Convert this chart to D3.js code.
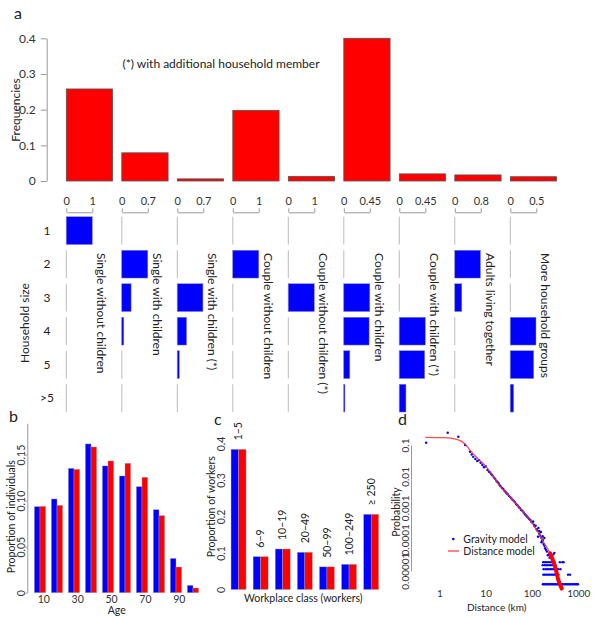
<!DOCTYPE html>
<html>
<head>
<meta charset="utf-8">
<script src="https://cdnjs.cloudflare.com/ajax/libs/d3/7.8.5/d3.min.js"></script>
<style>
  body { margin: 0; background: #fff; }
  svg { font-family: Lato, 'Open Sans', sans-serif; }
  .axis path, .axis line { stroke: #999; }
  .axis text { fill: #333; }
</style>
</head>
<body>
<div id="chart"></div>
<script>
// household types (panel a)
const householdTypes = [
  'Single without children', 'Single with children', 'Single with children (*)',
  'Couple without children', 'Couple without children (*)', 'Couple with children',
  'Couple with children (*)', 'Adults living together', 'More household groups'
];
const typeFrequencies = [0.258, 0.079, 0.006, 0.198, 0.013, 0.400, 0.020, 0.017, 0.012];
const freqTicks = [0, 0.1, 0.2, 0.3, 0.4];
const householdSizes = ['1', '2', '3', '4', '5', '>5'];
const sizeAxisMax = [1, 0.7, 0.7, 1, 1, 0.45, 0.45, 0.8, 0.5];
const sizeAxisLabels = ['1', '0.7', '0.7', '1', '1', '0.45', '0.45', '0.8', '0.5'];
// share of each household size, one row per household type
const sizeShares = [
  [1, 0, 0, 0, 0, 0],
  [0, 0.70, 0.25, 0.054, 0, 0],
  [0, 0, 0.69, 0.25, 0.054, 0],
  [0, 1, 0, 0, 0, 0],
  [0, 0, 1, 0, 0, 0],
  [0, 0, 0.45, 0.438, 0.104, 0.02],
  [0, 0, 0, 0.45, 0.44, 0.115],
  [0, 0.79, 0.215, 0, 0, 0],
  [0, 0, 0, 0.494, 0.45, 0.064]
];

// age structure (panel b)
const ageGroups = ['0-9', '10-19', '20-29', '30-39', '40-49', '50-59', '60-69', '70-79', '80-89', '90+'];
const ageBlue = [0.0935, 0.1018, 0.1351, 0.1616, 0.1377, 0.1268, 0.1152, 0.0902, 0.0373, 0.008];
const ageRed = [0.0938, 0.0949, 0.1340, 0.1583, 0.1431, 0.1406, 0.1254, 0.0837, 0.0279, 0.0051];
const ageTicks = [0, 0.05, 0.10, 0.15];
const ageTickLabels = [10, 30, 50, 70, 90];

// workplace size (panel c)
const workplaceClasses = ['1\u22125', '6\u22129', '10\u221219', '20\u221249', '50\u221299', '100\u2212249', '\u2265 250'];
const workersBlue = [0.384, 0.090, 0.111, 0.102, 0.062, 0.069, 0.206];
const workersRed = [0.384, 0.090, 0.111, 0.102, 0.062, 0.069, 0.206];
const workerTicks = [0, 0.1, 0.2, 0.3, 0.4];

// commuting distance (panel d)
const distanceTicks = [1, 10, 100, 1000];
const probTicks = [1e-1, 1e-2, 1e-3, 1e-4, 1e-5];
const gravityPoints = [
  [0.52, 0.118], [1.52, 0.246], [2.57, 0.184], [3.6, 0.100], [4.6, 0.061], [5.0, 0.050], [5.4, 0.042],
  [6.0, 0.036], [6.6, 0.031], [7.2, 0.033], [7.8, 0.027], [8.5, 0.023], [9.2, 0.0195], [10.0, 0.021],
  [11, 0.016], [11.8, 0.0142], [12.5, 0.0133], [13.3, 0.0118], [14, 0.0108], [15, 0.0093], [16, 0.0084],
  [17, 0.0073], [18, 0.0067], [19, 0.0061], [20, 0.0053], [21, 0.0049], [22.5, 0.0043], [24, 0.0040],
  [25.5, 0.0035], [27, 0.0032], [28.5, 0.0029], [30, 0.0027], [32, 0.0024], [34, 0.0022], [36, 0.0020],
  [38, 0.0018], [40, 0.0017], [43, 0.0015], [46, 0.0013], [49, 0.0012], [52, 0.00106], [55, 0.00098],
  [58, 0.00086], [62, 0.00081], [66, 0.00071], [70, 0.00064], [74, 0.00058], [78, 0.00053], [82, 0.00049],
  [87, 0.00044], [92, 0.00041], [97, 0.00036], [102, 0.00034], [106, 0.00037], [110, 0.00029],
  [115, 0.00026], [120, 0.00027], [126, 0.00021], [132, 0.00019], [138, 0.00023], [144, 0.00015],
  [150, 0.00013], [156, 0.00017], [160, 0.00011], [165, 0.000088], [172, 0.000094], [178, 0.000071],
  [185, 0.000062], [192, 0.000052], [200, 0.000046], [210, 0.000041], [220, 0.000031], [230, 0.000033],
  [240, 0.000026], [255, 0.000029], [170, 0.000125], [185, 0.00011], [305, 0.000037], [290, 0.000033],
  [145, 0.00018], [160, 0.00008], [135, 0.00012],
  [175, 1.87e-5], [192, 1.87e-5], [210, 1.87e-5], [232, 1.87e-5], [255, 1.87e-5], [280, 1.87e-5],
  [305, 1.87e-5], [400, 1.87e-5], [455, 1.87e-5], [480, 1.87e-5],
  [170, 1.5e-5], [186, 1.5e-5], [203, 1.5e-5], [222, 1.5e-5], [245, 1.5e-5], [268, 1.5e-5],
  [292, 1.5e-5], [318, 1.5e-5],
  [178, 1.12e-5], [195, 1.12e-5], [212, 1.12e-5], [230, 1.12e-5], [250, 1.12e-5], [270, 1.12e-5],
  [292, 1.12e-5], [315, 1.12e-5], [340, 1.12e-5], [365, 1.12e-5], [410, 1.12e-5],
  [176, 7.5e-6], [190, 7.5e-6], [205, 7.5e-6], [222, 7.5e-6], [240, 7.5e-6], [260, 7.5e-6],
  [282, 7.5e-6], [305, 7.5e-6], [330, 7.5e-6], [355, 7.5e-6], [372, 7.5e-6], [600, 7.5e-6], [665, 7.5e-6],
  [172, 3.7e-6], [182, 3.7e-6], [195, 3.7e-6], [208, 3.7e-6], [222, 3.7e-6], [238, 3.7e-6], [255, 3.7e-6],
  [272, 3.7e-6], [290, 3.7e-6], [310, 3.7e-6], [332, 3.7e-6], [355, 3.7e-6], [380, 3.7e-6], [405, 3.7e-6],
  [432, 3.7e-6], [460, 3.7e-6], [495, 3.7e-6], [530, 3.7e-6], [570, 3.7e-6], [610, 3.7e-6], [655, 3.7e-6],
  [700, 3.7e-6], [750, 3.7e-6], [800, 3.7e-6], [860, 3.7e-6], [920, 3.7e-6], [985, 3.7e-6]
];
const distanceModel = [
  [0.5, 0.176], [1.2, 0.171], [2.4, 0.151], [3.6, 0.108], [4.6, 0.069], [6.4, 0.040], [10.2, 0.0204],
  [14.7, 0.0098], [20.5, 0.0049], [33.6, 0.00226], [55, 0.00096], [91, 0.00041], [127, 0.000196],
  [176, 0.000083], [246, 0.0000355], [316, 0.0000133], [372, 0.000005], [440, 0.0000027]
];

const blue = '#0000ff', red = '#ff0000';

let svg = d3
  .select('#chart')
  .append('svg')
  .attr('width', 600)
  .attr('height', 617);

// rotated label helper
function rotLabel(x, y, txt, size, angle, anchor) {
  return svg
    .append('text')
    .attr('transform', `translate(${x},${y}) rotate(${angle})`)
    .attr('text-anchor', anchor || 'middle')
    .attr('dy', '0.35em')
    .attr('font-size', size)
    .attr('fill', '#222')
    .text(txt);
}
function plainText(x, y, txt, size, anchor) {
  return svg
    .append('text')
    .attr('x', x)
    .attr('y', y)
    .attr('text-anchor', anchor || 'middle')
    .attr('font-size', size)
    .attr('fill', '#222')
    .text(txt);
}

/////////////////////////////////////////////////////////
///////////// Panel a : household types /////////////////
/////////////////////////////////////////////////////////

plainText(14, 19, 'a', 16, 'start');

let xType = d3
  .scaleBand()
  .domain(householdTypes)
  .range([61.7, 561.2])
  .paddingInner(0.166)
  .paddingOuter(0.083);
let yFreq = d3.scaleLinear().domain([0, 0.4]).range([181, 38.3]);

svg
  .append('g')
  .attr('class', 'axis')
  .attr('transform', 'translate(46.7,0)')
  .call(
    d3
      .axisLeft(yFreq)
      .tickValues(freqTicks)
      .tickSize(6)
      .tickSizeOuter(0)
      .tickPadding(5)
      .tickFormat(d => (d === 0 ? '0' : d3.format('.1f')(d)))
  )
  .selectAll('text')
  .attr('font-size', 12)
  .attr('font-family', 'Lato');

rotLabel(16, 110, 'Frequencies', 12, -90);

svg
  .append('g')
  .selectAll('rect')
  .data(householdTypes)
  .enter()
  .append('rect')
  .attr('x', d => xType(d))
  .attr('y', (d, i) => yFreq(typeFrequencies[i]))
  .attr('width', xType.bandwidth())
  .attr('height', (d, i) => yFreq(0) - yFreq(typeFrequencies[i]))
  .style('fill', red)
  .style('stroke', '#555')
  .style('stroke-width', 0.8);

plainText(221, 68, '(*) with additional household member', 12);

// household size breakdown
let yRow = d3
  .scaleBand()
  .domain(householdSizes)
  .range([213.9, 414.9])
  .paddingInner(0.17)
  .paddingOuter(0.085);

svg
  .append('g')
  .selectAll('text')
  .data(householdSizes)
  .enter()
  .append('text')
  .attr('x', 47)
  .attr('y', d => yRow(d) + yRow.bandwidth() / 2)
  .attr('dy', '0.35em')
  .attr('text-anchor', 'middle')
  .attr('font-size', 12)
  .attr('fill', '#222')
  .text(d => d);

rotLabel(25, 323, 'Household size', 12, -90);

householdTypes.forEach((type, i) => {
  let sx = d3.scaleLinear().domain([0, sizeAxisMax[i]]).range([0, 26]);
  let col = svg.append('g').attr('transform', `translate(${xType(type)},0)`);

  col
    .append('g')
    .attr('class', 'axis')
    .attr('transform', 'translate(0,212.3)')
    .call(
      d3
        .axisTop(sx)
        .tickValues([0, sizeAxisMax[i]])
        .tickSize(4)
        .tickSizeOuter(0)
        .tickPadding(3)
        .tickFormat((d, j) => (j === 0 ? '0' : sizeAxisLabels[i]))
    )
    .selectAll('text')
    .attr('font-size', 11)
    .attr('font-family', 'Lato');

  col
    .selectAll('.zero')
    .data(householdSizes)
    .enter()
    .append('line')
    .attr('x1', sx(0))
    .attr('x2', sx(0))
    .attr('y1', d => yRow(d))
    .attr('y2', d => yRow(d) + yRow.bandwidth())
    .style('stroke', '#bbb');

  col
    .selectAll('.share')
    .data(householdSizes)
    .enter()
    .filter((d, j) => sizeShares[i][j] > 0)
    .append('rect')
    .attr('x', sx(0))
    .attr('y', d => yRow(d))
    .attr('width', d => sx(sizeShares[i][householdSizes.indexOf(d)]))
    .attr('height', yRow.bandwidth())
    .style('fill', blue)
    .style('stroke', '#8888cc')
    .style('stroke-width', 0.5);

  col
    .append('text')
    .attr('transform', 'translate(35,253) rotate(90)')
    .attr('dy', '0.35em')
    .attr('font-size', 12)
    .attr('fill', '#222')
    .text(type);
});

/////////////////////////////////////////////////////////
///////////////// Panel b : age /////////////////////////
/////////////////////////////////////////////////////////

plainText(9, 422, 'b', 16, 'start');

let xAge = d3
  .scaleBand()
  .domain(ageGroups)
  .range([31.5, 201.5])
  .paddingInner(0.333)
  .paddingOuter(0.167);
let yAge = d3.scaleLinear().domain([0, 0.184]).range([592.7, 423.3]);
let ageScale = d3.scaleLinear().domain([0, 100]).range([26.4, 195.7]);

let ageAxis = svg
  .append('g')
  .attr('class', 'axis')
  .attr('transform', 'translate(27.3,0)')
  .call(
    d3
      .axisLeft(yAge)
      .tickValues(ageTicks)
      .tickSize(2)
      .tickSizeOuter(0)
      .tickFormat(d => (d === 0 ? '0' : d3.format('.2f')(d)))
  );
ageAxis
  .selectAll('text')
  .attr('x', 0)
  .attr('dy', '0.35em')
  .attr('transform', 'translate(-6,0) rotate(-90)')
  .attr('text-anchor', 'middle')
  .attr('font-size', 10.5)
  .attr('font-family', 'Lato');

rotLabel(11.7, 516.7, 'Proportion of individuals', 10.5, -90);

let ageBars = svg.append('g');
ageBars
  .selectAll('.blue')
  .data(ageGroups)
  .enter()
  .append('rect')
  .attr('x', d => xAge(d))
  .attr('y', (d, i) => yAge(ageBlue[i]))
  .attr('width', xAge.bandwidth() / 2)
  .attr('height', (d, i) => yAge(0) - yAge(ageBlue[i]))
  .style('fill', blue)
  .style('stroke', '#aaa')
  .style('stroke-width', 0.4);
ageBars
  .selectAll('.red')
  .data(ageGroups)
  .enter()
  .append('rect')
  .attr('x', d => xAge(d) + xAge.bandwidth() / 2)
  .attr('y', (d, i) => yAge(ageRed[i]))
  .attr('width', xAge.bandwidth() / 2)
  .attr('height', (d, i) => yAge(0) - yAge(ageRed[i]))
  .style('fill', red)
  .style('stroke', '#aaa')
  .style('stroke-width', 0.4);

let ageX = svg
  .append('g')
  .attr('class', 'axis')
  .attr('transform', 'translate(0,592.7)')
  .call(d3.axisBottom(ageScale).tickValues(ageTickLabels).tickSize(0).tickPadding(3));
ageX.select('.domain').remove();
ageX.selectAll('text').attr('font-size', 10.5).attr('font-family', 'Lato');

plainText(116.7, 614, 'Age', 10.5);

/////////////////////////////////////////////////////////
///////////// Panel c : workplaces //////////////////////
/////////////////////////////////////////////////////////

plainText(214, 425, 'c', 16, 'start');

let xWork = d3
  .scaleBand()
  .domain(workplaceClasses)
  .range([227.5, 382.2])
  .paddingInner(0.32)
  .paddingOuter(0.16);
let yWork = d3.scaleLinear().domain([0, 0.4]).range([589.5, 443.5]);

let workAxis = svg
  .append('g')
  .attr('class', 'axis')
  .attr('transform', 'translate(228,0)')
  .call(
    d3
      .axisLeft(yWork)
      .tickValues(workerTicks)
      .tickSize(0)
      .tickFormat(d => (d === 0 ? '0' : d3.format('.1f')(d)))
  );
workAxis.select('.domain').remove();
workAxis
  .selectAll('text')
  .attr('x', 0)
  .attr('dy', '0.35em')
  .attr('transform', 'translate(-6.3,0) rotate(-90)')
  .attr('text-anchor', 'middle')
  .attr('font-size', 10.5)
  .attr('font-family', 'Lato');

rotLabel(211.7, 506.7, 'Proportion of workers', 10.5, -90);

let workBars = svg.append('g');
workBars
  .selectAll('.blue')
  .data(workplaceClasses)
  .enter()
  .append('rect')
  .attr('x', d => xWork(d))
  .attr('y', (d, i) => yWork(workersBlue[i]))
  .attr('width', xWork.bandwidth() / 2)
  .attr('height', (d, i) => yWork(0) - yWork(workersBlue[i]))
  .style('fill', blue)
  .style('stroke', '#aaa')
  .style('stroke-width', 0.4);
workBars
  .selectAll('.red')
  .data(workplaceClasses)
  .enter()
  .append('rect')
  .attr('x', d => xWork(d) + xWork.bandwidth() / 2)
  .attr('y', (d, i) => yWork(workersRed[i]))
  .attr('width', xWork.bandwidth() / 2)
  .attr('height', (d, i) => yWork(0) - yWork(workersRed[i]))
  .style('fill', red)
  .style('stroke', '#aaa')
  .style('stroke-width', 0.4);
workBars
  .selectAll('text')
  .data(workplaceClasses)
  .enter()
  .append('text')
  .attr(
    'transform',
    (d, i) =>
      `translate(${xWork(d) + xWork.bandwidth() / 2},${yWork(Math.max(workersBlue[i], workersRed[i])) - 9}) rotate(-90)`
  )
  .attr('dy', '0.35em')
  .attr('font-size', 10.5)
  .attr('fill', '#222')
  .text(d => d);

plainText(303.3, 602, 'Workplace class (workers)', 10.5);

/////////////////////////////////////////////////////////
///////////// Panel d : commuting distance //////////////
/////////////////////////////////////////////////////////

plainText(398, 425, 'd', 16, 'start');

let xDist = d3.scaleLog().domain([1, 1000]).range([439.3, 578.3]);
let yProb = d3.scaleLog().domain([1e-5, 0.1]).range([570.7, 445]);

let probAxis = svg
  .append('g')
  .attr('class', 'axis')
  .attr('transform', 'translate(411,0)')
  .call(
    d3
      .axisLeft(yProb)
      .tickValues(probTicks)
      .tickSize(0)
      .tickSizeOuter(0)
      .tickFormat(d => d.toFixed(Math.round(-Math.log10(d))))
  );
probAxis
  .selectAll('text')
  .attr('x', 0)
  .attr('dy', '0.35em')
  .attr('transform', 'translate(-6,0) rotate(-90)')
  .attr('text-anchor', 'middle')
  .attr('font-size', 10)
  .attr('font-family', 'Lato');

rotLabel(396.7, 512, 'Probability', 10.5, -90);

let distAxis = svg
  .append('g')
  .attr('class', 'axis')
  .attr('transform', 'translate(0,589)')
  .call(d3.axisBottom(xDist).tickValues(distanceTicks).tickSize(0).tickPadding(1).tickFormat(d3.format('d')));
distAxis.select('.domain').remove();
distAxis.selectAll('text').attr('font-size', 10).attr('font-family', 'Lato');

plainText(496.7, 611, 'Distance (km)', 10);

svg
  .append('g')
  .selectAll('circle')
  .data(gravityPoints)
  .enter()
  .append('circle')
  .attr('cx', d => xDist(d[0]))
  .attr('cy', d => yProb(d[1]))
  .attr('r', 1.2)
  .style('fill', blue);

let modelLine = d3
  .line()
  .x(d => xDist(d[0]))
  .y(d => yProb(d[1]))
  .curve(d3.curveMonotoneX);

svg
  .append('path')
  .attr('d', modelLine(distanceModel))
  .style('fill', 'none')
  .style('stroke', '#ff2a2a')
  .style('stroke-opacity', 0.85)
  .style('stroke-width', 1.3);
// thick tail where the model points pile up
svg
  .append('path')
  .attr('d', modelLine(distanceModel.filter(d => d[0] >= 246)))
  .style('fill', 'none')
  .style('stroke', red)
  .style('stroke-width', 4)
  .style('stroke-linecap', 'round');

// legend
svg
  .append('circle')
  .attr('cx', 453.3)
  .attr('cy', 539)
  .attr('r', 1.3)
  .style('fill', blue);
plainText(463.3, 542.5, 'Gravity model', 10.5, 'start');
svg
  .append('line')
  .attr('x1', 448)
  .attr('x2', 459)
  .attr('y1', 551)
  .attr('y2', 551)
  .style('stroke', '#ff5a5a')
  .style('stroke-width', 1.5);
plainText(463.3, 555, 'Distance model', 10.5, 'start');
</script>
</body>
</html>
